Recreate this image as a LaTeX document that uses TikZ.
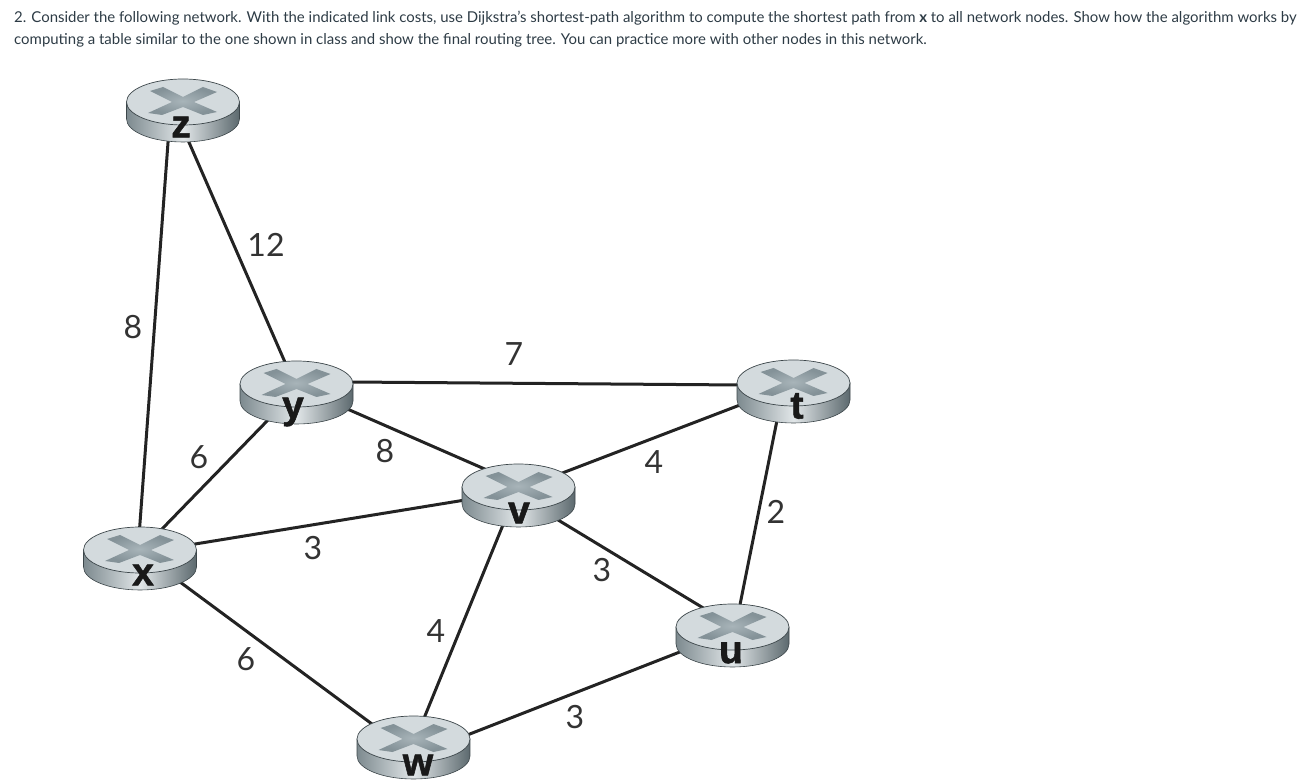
\documentclass[tikz,border=0pt]{standalone}
\usepackage{fontspec}
\setmainfont{Lato}
\newfontfamily\routerfont[BoldFeatures={FakeBold=1.4}]{Liberation Sans}
\usetikzlibrary{backgrounds}
\definecolor{texte}{RGB}{45,59,69}
\definecolor{lien}{RGB}{35,35,35}
\definecolor{dessus}{RGB}{211,218,221}
\definecolor{bord}{RGB}{60,70,74}
\definecolor{flancA}{RGB}{125,138,143}
\definecolor{flancB}{RGB}{225,230,232}
\definecolor{flancC}{RGB}{92,105,110}
\definecolor{croixA}{RGB}{168,180,185}
\definecolor{croixB}{RGB}{132,146,152}
\tikzset{
  link/.style={draw=lien,line width=3pt},
  routerpt/.style={inner sep=0pt,minimum size=0pt},
  routertxt/.style={font=\routerfont\bfseries\fontsize{39}{39}\selectfont,text=black!90,inner sep=0pt},
  cost/.style={font=\fontsize{32}{32}\selectfont,text=black!80,inner sep=0pt},
}
\begin{document}
\begin{tikzpicture}[x=1pt,y=1pt]
\useasboundingbox (0,0) rectangle (1308,782);
\node[anchor=north west,align=left,text=texte,inner sep=0pt,font=\fontsize{14.95}{22}\selectfont]
  (enonce) at (14,771.5){2. Consider the following network. With the indicated link costs, use Dijkstra's shortest-path algorithm to compute the shortest path from \textbf{x} to all network nodes. Show how the algorithm works by\\
  computing a table similar to the one shown in class and show the final routing tree. You can practice more with other nodes in this network.};
% routers
\foreach \nom/\px/\py/\lx/\ly in {z/183/680/181/655,y/296.5/398/293/370,x/140/232/143/207,v/518.5/295/519/269,t/793.5/399/797/376,u/732.5/155/731/129,w/413.5/43/418/17}{
  \begin{scope}[shift={(\px,\py)}]
    \shade[left color=flancA,right color=flancC,middle color=flancB,draw=bord,line width=0.6pt]
      (-56.5,0) -- (-56.5,-17) arc[start angle=180,end angle=360,x radius=56.5,y radius=23] -- (56.5,0) -- cycle;
    \fill[dessus,draw=bord,line width=0.7pt] (0,0) ellipse[x radius=56.5,y radius=23];
    \shade[inner color=croixA,outer color=croixB]
      (-33,11) -- (-20,15) -- (0,5) -- (20,15) -- (34,10) -- (11,0) -- (34,-10) -- (20,-13)
      -- (0,-5) -- (-21,-13) -- (-35,-11) -- (-11,0) -- cycle;
  \end{scope}
  \node[routerpt] (\nom) at (\px,\py){};
  \node[routertxt] (lab\nom) at (\lx,\ly){\nom};
}
% links
\begin{scope}[on background layer]
  \draw[link] ([xshift=-12pt]z.center) -- ([xshift=-2pt]x.center);
  \draw[link] ([xshift=-11.6pt]z.center) -- ([xshift=-2pt]y.center);
  \draw[link] ([xshift=6.5pt]y.center) -- ([xshift=1.6pt]x.center);
  \draw[link] ([yshift=2.4pt]y.center) -- ([yshift=-2.4pt]t.center);
  \draw[link] ([yshift=-2.8pt]y.center) -- ([yshift=3.2pt]v.center);
  \draw[link] ([yshift=-3pt]x.center) -- ([yshift=-4.3pt]v.center);
  \draw[link] ([yshift=-2.4pt]x.center) -- ([yshift=-15.7pt]w.center);
  \draw[link] (v.center) -- ([xshift=2pt]w.center);
  \draw[link] ([yshift=-2.8pt]v.center) -- ([yshift=-1.5pt]t.center);
  \draw[link] ([yshift=-9pt]v.center) -- ([yshift=1.3pt]u.center);
  \draw[link] ([xshift=-9pt]t.center) -- ([xshift=3pt]u.center);
  \draw[link] ([yshift=-17pt]w.center) -- ([yshift=-4.4pt]u.center);
\end{scope}
% costs
\node[cost] (c1) at (266,537){12};
\node[cost] (c2) at (133,455){8};
\node[cost] (c3) at (514,428){7};
\node[cost] (c4) at (199,325){6};
\node[cost] (c5) at (385,331){8};
\node[cost] (c6) at (654,320){4};
\node[cost] (c7) at (776,270){2};
\node[cost] (c8) at (313,234){3};
\node[cost] (c9) at (602,212){3};
\node[cost] (c10) at (436,151){4};
\node[cost] (c11) at (246,123){6};
\node[cost] (c12) at (575,65){3};
\end{tikzpicture}
\end{document}
